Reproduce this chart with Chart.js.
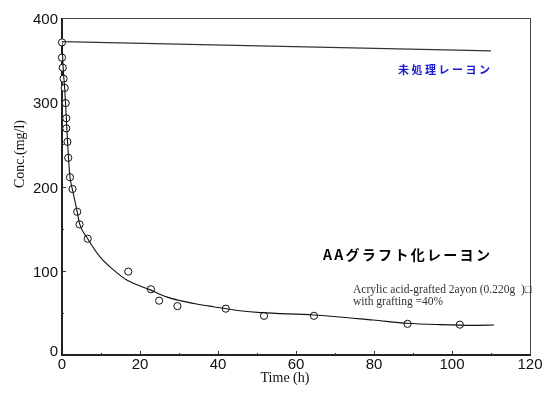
<!DOCTYPE html>
<html lang="ja">
<head>
    <meta charset="UTF-8">
    <title>Conc. vs Time</title>
    <style>
        body {
            background-color: #fff;
            margin: 0;
        }
        .wrap {
            width: 544px;
            height: 400px;
        }
    </style>
</head>
<body>
    <div class="wrap">
        <canvas id="chart" width="544" height="400"></canvas>
    </div>

    <script src="https://cdn.jsdelivr.net/npm/chart.js"></script>
    <script>
        // untreated rayon (straight line)
        const untreatedX = [0, 110];
        const untreatedY = [372, 361];

        // AA-grafted rayon, measured points
        const measuredX = [0, 0, 0.2, 0.4, 0.7, 0.95, 1.1, 1.1, 1.4, 1.6, 2.05, 2.7, 3.9, 4.5, 6.6, 17, 22.8, 24.9, 29.6, 42, 51.8, 64.6, 88.6, 102];
        const measuredY = [371, 353, 341, 328, 317, 299, 281, 269, 253, 234, 211, 197, 170, 155, 138, 99, 78, 64.5, 58, 55, 46.5, 46.5, 37, 36];

        // fitted curve
        const curveX = [0, 0.3, 0.7, 1.1, 1.5, 2.0, 2.7, 3.9, 4.5, 6.6, 9.7, 13.2, 16.6, 22.8, 26.8, 30.3, 34.5, 38.8, 45.6, 51, 64.6, 79.8, 88.6, 97, 105.4, 110.8];
        const curveY = [372, 340, 316, 282, 247, 213, 196, 170, 156, 138, 116.7, 101, 89, 77, 69, 64.5, 60.5, 57.3, 52.6, 50.3, 47.5, 41.5, 37.6, 36, 35.2, 35.6];

        const xTicks = [0, 20, 40, 60, 80, 100, 120];
        const yTicks = [0, 100, 200, 300, 400];

        const pts = (xs, ys) => xs.map((x, i) => ({ x: x, y: ys[i] }));

        // frame and inward ticks go under the marks
        const framePlugin = {
            id: 'frame',
            beforeDatasetsDraw(chart) {
                const c = chart.ctx;
                const xs = chart.scales.x, ys = chart.scales.y;
                const a = chart.chartArea;
                c.save();
                c.strokeStyle = '#444';
                c.lineWidth = 1;
                c.beginPath();
                c.moveTo(a.left, a.top + 0.5); c.lineTo(a.right, a.top + 0.5);
                c.moveTo(a.right + 0.5, a.top); c.lineTo(a.right + 0.5, a.bottom);
                c.stroke();
                c.strokeStyle = '#222';
                c.lineWidth = 2;
                c.beginPath();
                c.moveTo(a.left, a.top); c.lineTo(a.left, a.bottom);
                c.lineTo(a.right + 1, a.bottom);
                c.stroke();

                c.lineWidth = 1;
                c.strokeStyle = '#333';
                c.beginPath();
                for (let v = 10; v < 120; v += 10) {
                    const px = Math.round(xs.getPixelForValue(v)) + 0.5;
                    const len = v % 20 === 0 ? 4 : 2;
                    c.moveTo(px, a.bottom); c.lineTo(px, a.bottom - len);
                }
                for (let v = 50; v < 400; v += 50) {
                    const py = Math.round(ys.getPixelForValue(v)) + 0.5;
                    const len = v % 100 === 0 ? 4 : 2;
                    c.moveTo(a.left, py); c.lineTo(a.left + len, py);
                }
                c.stroke();
                c.restore();
            },
            afterDraw(chart) {
                const c = chart.ctx;
                const xs = chart.scales.x, ys = chart.scales.y;
                const a = chart.chartArea;
                c.save();
                c.fillStyle = '#111';
                c.font = '15px "Liberation Sans", Arial, sans-serif';
                c.textAlign = 'center';
                c.textBaseline = 'top';
                xTicks.forEach(v => c.fillText(String(v), xs.getPixelForValue(v), a.bottom + 2));
                c.textAlign = 'right';
                c.textBaseline = 'middle';
                yTicks.forEach(v => c.fillText(String(v), a.left - 4, ys.getPixelForValue(v) + (v === 0 ? -3 : 2)));

                c.font = '14px "Liberation Serif", "Times New Roman", serif';
                c.textAlign = 'center';
                c.fillText('Time (h)', 285, 378);
                c.save();
                c.translate(20, 154);
                c.rotate(-Math.PI / 2);
                c.fillText('Conc.(mg/l)', 0, 0);
                c.restore();

                c.textAlign = 'left';
                c.fillStyle = '#1a1ad2';
                c.font = 'bold 11px "Noto Sans CJK JP", sans-serif';
                c.letterSpacing = '2.5px';
                c.fillText('未処理レーヨン', 398, 70);

                c.fillStyle = '#000';
                c.font = 'bold 14px "Noto Sans CJK JP", sans-serif';
                c.letterSpacing = '2.3px';
                c.fillText('AAグラフト化レーヨン', 323, 255);

                c.letterSpacing = '0px';
                c.fillStyle = '#333';
                c.font = '11.5px "Liberation Serif", "Times New Roman", serif';
                c.fillText('Acrylic acid-grafted 2ayon (0.220g  )□', 353, 290);
                c.fillText('with grafting =40%', 353, 302);
                c.restore();
            }
        };

        const ctx = document.getElementById('chart').getContext('2d');
        const chart = new Chart(ctx, {
            type: 'line',
            data: {
                datasets: [
                    {
                        label: 'untreated',
                        data: pts(untreatedX, untreatedY),
                        borderColor: '#333',
                        borderWidth: 1.2,
                        pointRadius: 0,
                        fill: false
                    },
                    {
                        label: 'curve',
                        data: pts(curveX, curveY),
                        borderColor: '#111',
                        borderWidth: 1.1,
                        pointRadius: 0,
                        cubicInterpolationMode: 'monotone',
                        fill: false
                    },
                    {
                        label: 'measured',
                        data: pts(measuredX, measuredY),
                        showLine: false,
                        clip: false,
                        pointRadius: 3.6,
                        pointBorderWidth: 1,
                        pointBorderColor: '#111',
                        pointBackgroundColor: '#fff'
                    }
                ]
            },
            options: {
                responsive: false,
                animation: false,
                layout: { padding: { left: 62, right: 14, top: 18, bottom: 45 } },
                plugins: {
                    legend: { display: false },
                    tooltip: { enabled: false }
                },
                scales: {
                    x: { type: 'linear', min: 0, max: 120, display: false },
                    y: { min: 0, max: 400, display: false }
                }
            },
            plugins: [framePlugin]
        });
    </script>
</body>
</html>
